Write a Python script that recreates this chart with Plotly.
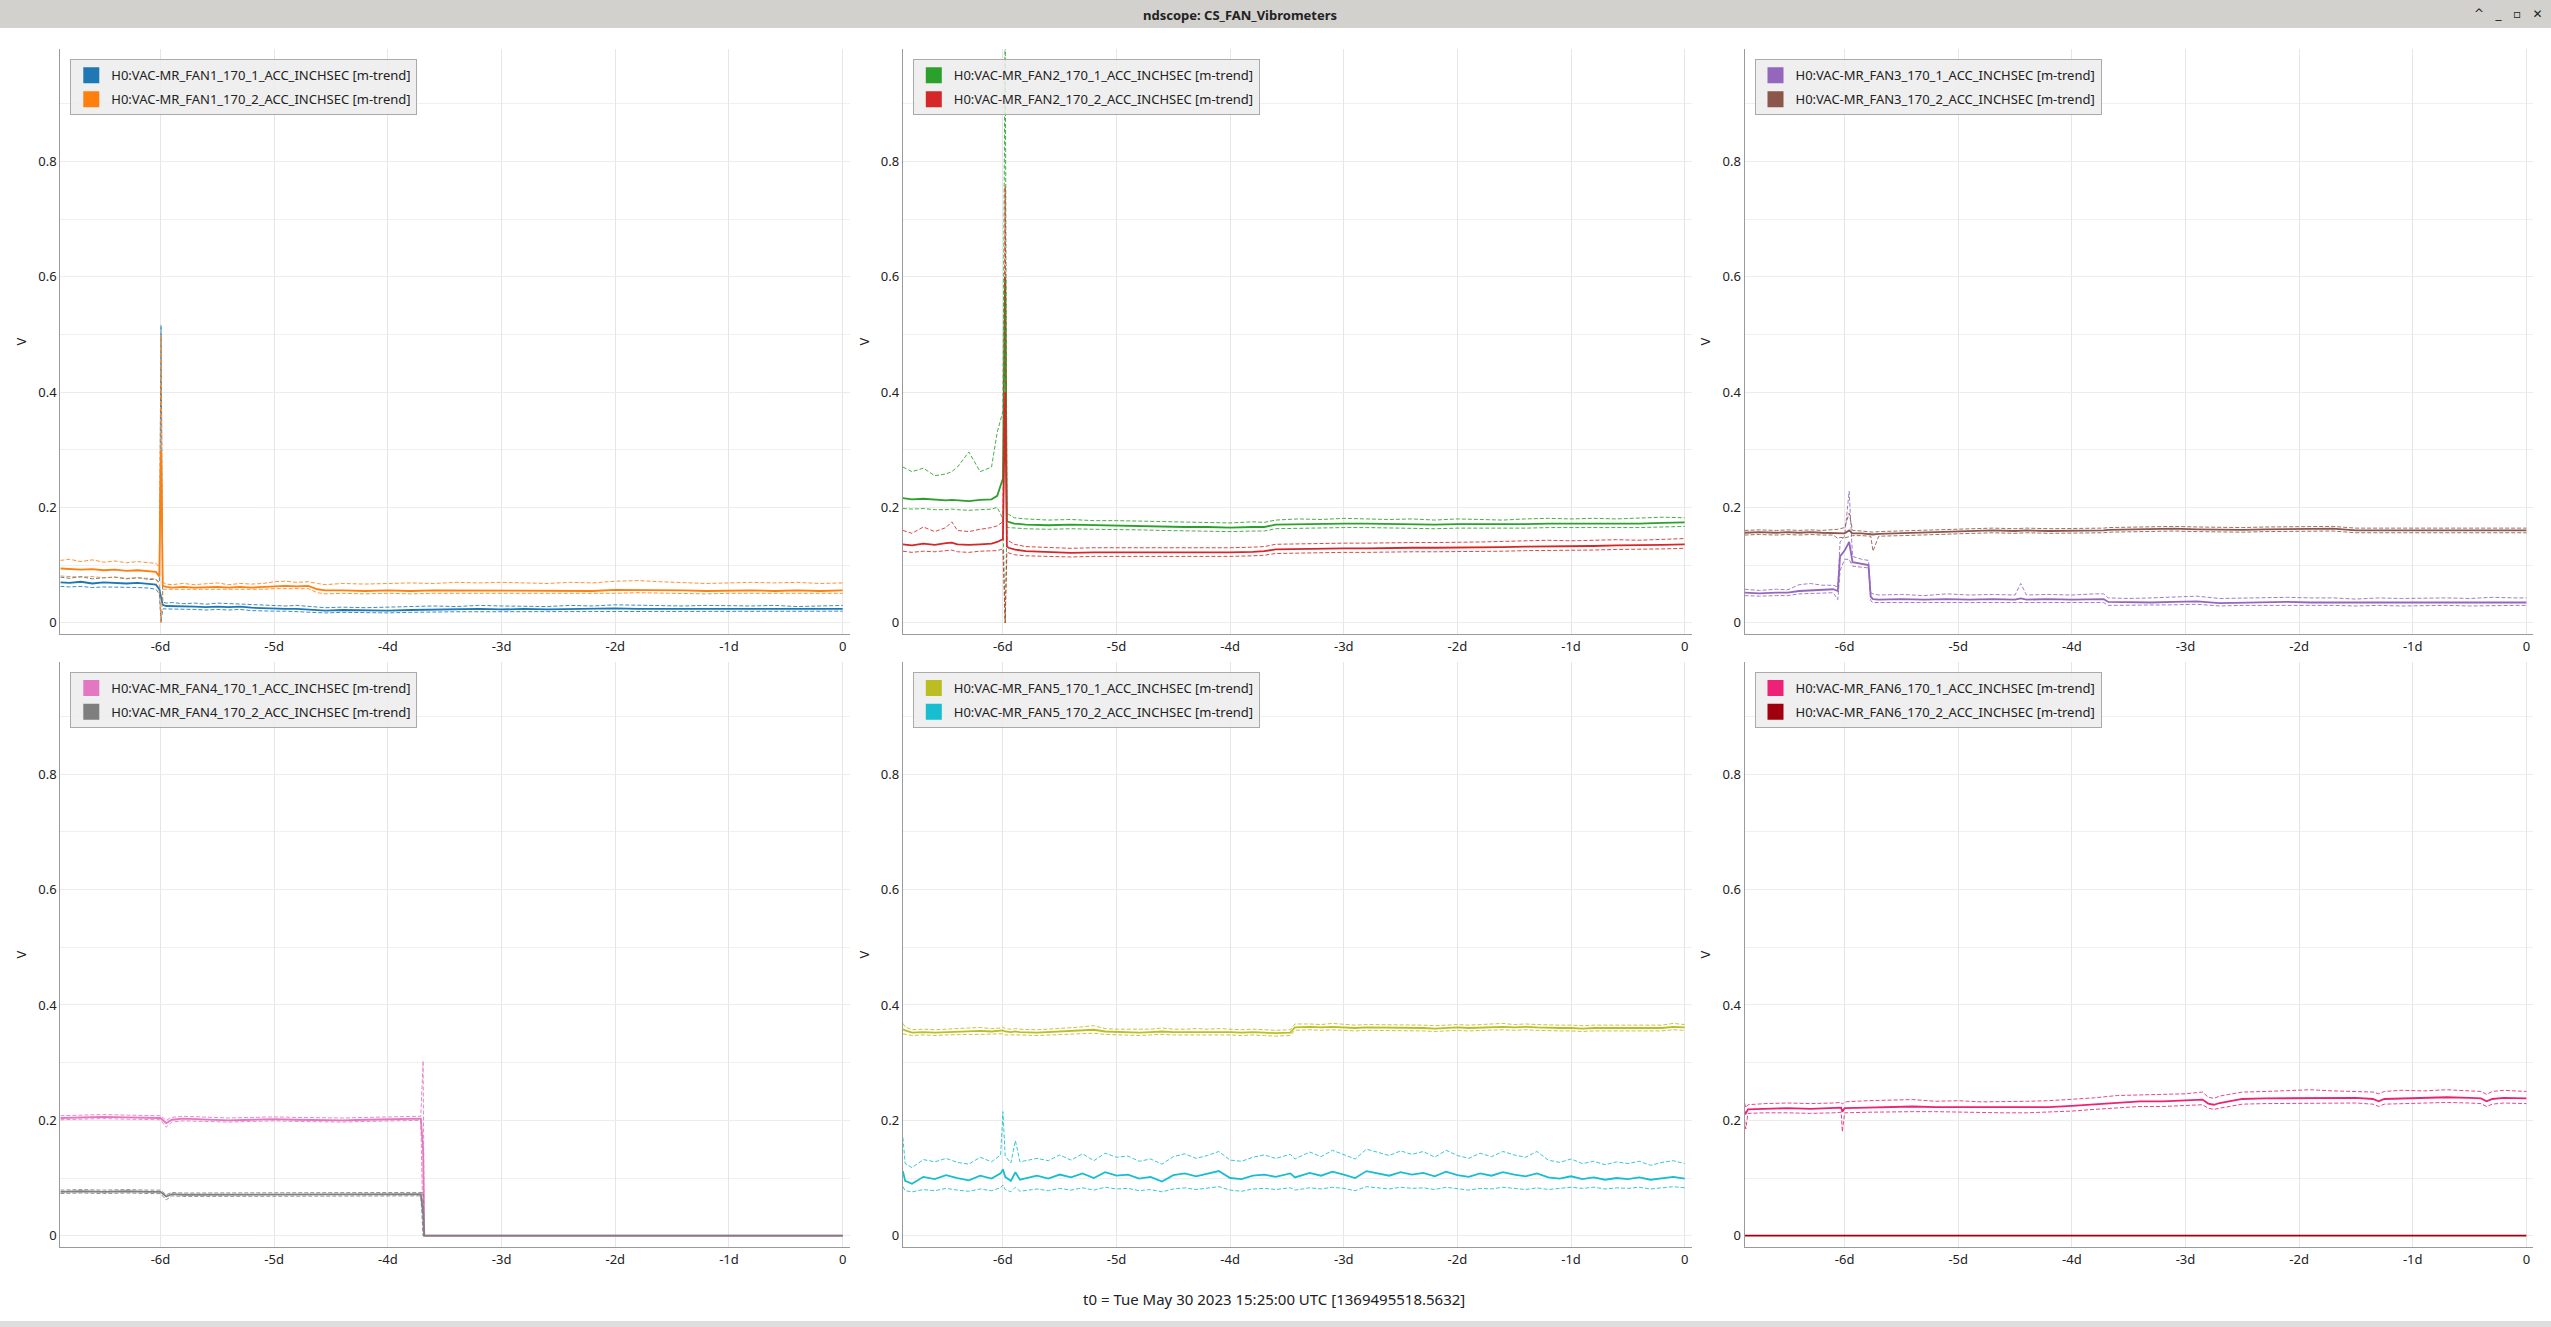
import plotly.graph_objects as go

W, H = 2551, 1327

# ---------------------------------------------------------------------------
# data (time in days relative to t0, values in V)
# ---------------------------------------------------------------------------

T1 = [-6.88, -6.8, -6.7, -6.6, -6.5, -6.4, -6.3, -6.2, -6.1, -6.04, -6.01, -5.995, -5.98,
      -5.95, -5.9, -5.8, -5.7, -5.6, -5.5, -5.4, -5.3, -5.2, -5.1, -5.0, -4.9, -4.8, -4.7,
      -4.62, -4.55, -4.4, -4.2, -4.0, -3.8, -3.6, -3.4, -3.2, -3.0, -2.8, -2.6, -2.4, -2.2,
      -2.0, -1.8, -1.6, -1.4, -1.2, -1.0, -0.8, -0.6, -0.4, -0.2, 0.0]

fan1_1_mean = [0.070, 0.069, 0.071, 0.068, 0.070, 0.069, 0.068, 0.069, 0.067, 0.066, 0.058, 0.045, 0.031,
               0.029, 0.029, 0.028, 0.028, 0.027, 0.028, 0.027, 0.028, 0.026, 0.025, 0.025, 0.024, 0.024, 0.023,
               0.022, 0.021, 0.022, 0.021, 0.021, 0.022, 0.023, 0.023, 0.024, 0.023, 0.024, 0.023, 0.024, 0.024,
               0.025, 0.024, 0.024, 0.023, 0.024, 0.024, 0.023, 0.024, 0.023, 0.024, 0.024]
fan1_1_max = [0.079, 0.077, 0.080, 0.076, 0.078, 0.079, 0.076, 0.078, 0.075, 0.075, 0.070, 0.516, 0.036,
              0.034, 0.035, 0.033, 0.034, 0.032, 0.034, 0.033, 0.033, 0.031, 0.030, 0.030, 0.029, 0.030, 0.028,
              0.027, 0.026, 0.027, 0.026, 0.027, 0.028, 0.029, 0.028, 0.030, 0.029, 0.029, 0.028, 0.030, 0.029,
              0.031, 0.030, 0.029, 0.029, 0.030, 0.029, 0.029, 0.030, 0.028, 0.029, 0.030]
fan1_1_min = [0.063, 0.062, 0.063, 0.061, 0.062, 0.062, 0.061, 0.061, 0.060, 0.058, 0.050, 0.000, 0.024,
              0.024, 0.024, 0.023, 0.023, 0.022, 0.023, 0.022, 0.023, 0.021, 0.020, 0.020, 0.020, 0.019, 0.019,
              0.018, 0.017, 0.018, 0.017, 0.017, 0.018, 0.019, 0.019, 0.019, 0.019, 0.020, 0.019, 0.020, 0.019,
              0.020, 0.020, 0.019, 0.019, 0.020, 0.019, 0.019, 0.020, 0.019, 0.019, 0.020]

fan1_2_mean = [0.094, 0.093, 0.092, 0.093, 0.091, 0.092, 0.090, 0.091, 0.089, 0.088, 0.080, 0.300, 0.064,
               0.062, 0.061, 0.062, 0.061, 0.062, 0.062, 0.061, 0.062, 0.061, 0.062, 0.064, 0.064, 0.063, 0.064,
               0.058, 0.056, 0.056, 0.055, 0.056, 0.055, 0.056, 0.056, 0.055, 0.056, 0.056, 0.055, 0.056, 0.055,
               0.057, 0.057, 0.056, 0.056, 0.055, 0.056, 0.056, 0.055, 0.056, 0.055, 0.056]
fan1_2_max = [0.108, 0.110, 0.106, 0.109, 0.105, 0.107, 0.104, 0.106, 0.104, 0.103, 0.096, 0.500, 0.070,
              0.067, 0.066, 0.068, 0.066, 0.068, 0.069, 0.066, 0.068, 0.067, 0.068, 0.071, 0.072, 0.070, 0.071,
              0.068, 0.066, 0.068, 0.067, 0.068, 0.069, 0.068, 0.070, 0.069, 0.070, 0.069, 0.068, 0.070, 0.069,
              0.072, 0.073, 0.071, 0.070, 0.068, 0.069, 0.070, 0.069, 0.070, 0.068, 0.069]
fan1_2_min = [0.081, 0.080, 0.079, 0.080, 0.078, 0.079, 0.077, 0.078, 0.077, 0.076, 0.066, 0.000, 0.058,
              0.058, 0.057, 0.058, 0.057, 0.058, 0.058, 0.057, 0.058, 0.057, 0.058, 0.059, 0.059, 0.058, 0.059,
              0.052, 0.050, 0.051, 0.050, 0.051, 0.050, 0.051, 0.051, 0.050, 0.051, 0.051, 0.050, 0.051, 0.050,
              0.051, 0.052, 0.051, 0.051, 0.050, 0.051, 0.051, 0.050, 0.051, 0.050, 0.051]

T2 = [-6.88, -6.8, -6.7, -6.6, -6.5, -6.45, -6.4, -6.3, -6.2, -6.1, -6.05, -6.0, -5.98, -5.965,
      -5.95, -5.9, -5.8, -5.6, -5.4, -5.2, -5.0, -4.8, -4.6, -4.4, -4.2, -4.0, -3.8, -3.7, -3.6,
      -3.4, -3.2, -3.0, -2.8, -2.6, -2.4, -2.2, -2.0, -1.8, -1.6, -1.4, -1.2, -1.0, -0.8, -0.6,
      -0.4, -0.2, 0.0]

fan2_1_mean = [0.216, 0.214, 0.215, 0.213, 0.212, 0.213, 0.212, 0.211, 0.213, 0.214, 0.220, 0.250, 0.600, 0.176,
               0.175, 0.172, 0.170, 0.169, 0.170, 0.169, 0.169, 0.168, 0.167, 0.166, 0.166, 0.165, 0.166, 0.166, 0.170,
               0.171, 0.171, 0.172, 0.172, 0.171, 0.171, 0.170, 0.171, 0.171, 0.170, 0.171, 0.172, 0.172, 0.172, 0.171,
               0.172, 0.173, 0.174]
fan2_1_max = [0.270, 0.262, 0.268, 0.255, 0.258, 0.262, 0.270, 0.296, 0.262, 0.270, 0.330, 0.367, 1.050, 0.190,
              0.188, 0.182, 0.180, 0.178, 0.179, 0.177, 0.177, 0.176, 0.175, 0.174, 0.174, 0.173, 0.175, 0.174, 0.178,
              0.180, 0.179, 0.181, 0.180, 0.179, 0.180, 0.178, 0.180, 0.179, 0.178, 0.180, 0.181, 0.180, 0.181, 0.180,
              0.181, 0.183, 0.182]
fan2_1_min = [0.198, 0.197, 0.198, 0.196, 0.196, 0.197, 0.196, 0.195, 0.196, 0.197, 0.200, 0.180, 0.000, 0.166,
              0.165, 0.164, 0.163, 0.162, 0.163, 0.162, 0.162, 0.161, 0.160, 0.159, 0.159, 0.158, 0.159, 0.159, 0.163,
              0.164, 0.164, 0.165, 0.165, 0.164, 0.164, 0.163, 0.164, 0.164, 0.163, 0.164, 0.165, 0.165, 0.165, 0.164,
              0.165, 0.166, 0.167]

fan2_2_mean = [0.136, 0.134, 0.137, 0.135, 0.138, 0.139, 0.136, 0.135, 0.136, 0.137, 0.140, 0.145, 0.400, 0.132,
               0.130, 0.127, 0.124, 0.122, 0.121, 0.122, 0.122, 0.121, 0.121, 0.122, 0.121, 0.122, 0.123, 0.124, 0.127,
               0.128, 0.128, 0.129, 0.129, 0.130, 0.130, 0.130, 0.130, 0.131, 0.131, 0.132, 0.132, 0.133, 0.133, 0.134,
               0.134, 0.135, 0.136]
fan2_2_max = [0.160, 0.155, 0.166, 0.158, 0.165, 0.175, 0.160, 0.158, 0.162, 0.165, 0.168, 0.175, 0.757, 0.145,
              0.142, 0.136, 0.132, 0.130, 0.129, 0.130, 0.130, 0.129, 0.129, 0.130, 0.129, 0.130, 0.131, 0.132, 0.136,
              0.137, 0.137, 0.138, 0.138, 0.139, 0.139, 0.139, 0.139, 0.140, 0.141, 0.142, 0.143, 0.142, 0.143, 0.144,
              0.143, 0.145, 0.146]
fan2_2_min = [0.124, 0.122, 0.124, 0.123, 0.125, 0.126, 0.123, 0.122, 0.124, 0.124, 0.125, 0.128, 0.000, 0.122,
              0.121, 0.118, 0.116, 0.115, 0.114, 0.115, 0.115, 0.114, 0.114, 0.115, 0.114, 0.115, 0.116, 0.117, 0.120,
              0.121, 0.121, 0.122, 0.122, 0.123, 0.123, 0.123, 0.123, 0.124, 0.124, 0.125, 0.125, 0.126, 0.126, 0.127,
              0.127, 0.128, 0.129]

T3 = [-6.88, -6.75, -6.6, -6.5, -6.4, -6.3, -6.2, -6.1, -6.06, -6.04, -6.0, -5.96, -5.93, -5.85,
      -5.79, -5.77, -5.75, -5.7, -5.5, -5.3, -5.1, -4.9, -4.7, -4.5, -4.45, -4.4, -4.2, -4.0, -3.8,
      -3.72, -3.68, -3.5, -3.3, -3.1, -2.9, -2.7, -2.5, -2.3, -2.1, -1.9, -1.7, -1.5, -1.3, -1.1,
      -0.9, -0.7, -0.5, -0.3, -0.1, 0.0]

fan3_1_mean = [0.052, 0.051, 0.052, 0.052, 0.055, 0.056, 0.057, 0.058, 0.055, 0.115, 0.125, 0.140, 0.105, 0.102,
               0.100, 0.045, 0.041, 0.040, 0.041, 0.040, 0.041, 0.040, 0.041, 0.040, 0.042, 0.040, 0.041, 0.040, 0.041,
               0.041, 0.036, 0.035, 0.035, 0.036, 0.037, 0.034, 0.035, 0.035, 0.036, 0.035, 0.035, 0.034, 0.035, 0.034,
               0.035, 0.035, 0.034, 0.035, 0.035, 0.035]
fan3_1_max = [0.058, 0.056, 0.058, 0.057, 0.066, 0.068, 0.065, 0.065, 0.062, 0.140, 0.150, 0.228, 0.115, 0.110,
              0.108, 0.052, 0.050, 0.048, 0.049, 0.047, 0.050, 0.048, 0.049, 0.048, 0.068, 0.048, 0.049, 0.048, 0.050,
              0.050, 0.043, 0.042, 0.043, 0.044, 0.046, 0.042, 0.043, 0.043, 0.044, 0.043, 0.043, 0.041, 0.043, 0.042,
              0.043, 0.043, 0.042, 0.044, 0.043, 0.043]
fan3_1_min = [0.047, 0.046, 0.047, 0.047, 0.050, 0.051, 0.052, 0.052, 0.040, 0.090, 0.110, 0.110, 0.098, 0.096,
              0.095, 0.038, 0.035, 0.035, 0.035, 0.034, 0.035, 0.034, 0.035, 0.034, 0.035, 0.034, 0.035, 0.034, 0.035,
              0.035, 0.030, 0.030, 0.030, 0.031, 0.032, 0.029, 0.030, 0.030, 0.031, 0.030, 0.030, 0.029, 0.030, 0.029,
              0.030, 0.030, 0.029, 0.030, 0.030, 0.030]

fan3_2_mean = [0.156, 0.157, 0.156, 0.157, 0.156, 0.157, 0.156, 0.156, 0.155, 0.156, 0.155, 0.160, 0.155, 0.155,
               0.154, 0.154, 0.153, 0.154, 0.155, 0.156, 0.158, 0.159, 0.160, 0.159, 0.160, 0.160, 0.159, 0.159, 0.160,
               0.160, 0.161, 0.162, 0.162, 0.163, 0.162, 0.161, 0.161, 0.162, 0.162, 0.163, 0.163, 0.160, 0.160, 0.159,
               0.159, 0.160, 0.159, 0.160, 0.160, 0.160]
fan3_2_max = [0.160, 0.161, 0.160, 0.161, 0.160, 0.161, 0.160, 0.161, 0.162, 0.163, 0.165, 0.190, 0.160, 0.159,
              0.158, 0.158, 0.157, 0.158, 0.159, 0.160, 0.162, 0.163, 0.164, 0.163, 0.164, 0.164, 0.163, 0.163, 0.164,
              0.164, 0.165, 0.166, 0.166, 0.167, 0.166, 0.165, 0.165, 0.166, 0.166, 0.167, 0.167, 0.164, 0.164, 0.163,
              0.163, 0.164, 0.163, 0.164, 0.164, 0.164]
fan3_2_min = [0.152, 0.153, 0.152, 0.153, 0.152, 0.153, 0.152, 0.152, 0.146, 0.148, 0.147, 0.150, 0.151, 0.151,
              0.150, 0.150, 0.124, 0.150, 0.151, 0.152, 0.154, 0.155, 0.156, 0.155, 0.156, 0.156, 0.155, 0.155, 0.156,
              0.156, 0.157, 0.158, 0.158, 0.159, 0.158, 0.157, 0.157, 0.158, 0.158, 0.159, 0.159, 0.156, 0.156, 0.155,
              0.155, 0.156, 0.155, 0.156, 0.156, 0.156]

T4 = [-6.88, -6.7, -6.5, -6.3, -6.1, -6.0, -5.95, -5.9, -5.8, -5.6, -5.4, -5.2, -5.0, -4.8, -4.6,
      -4.4, -4.2, -4.0, -3.8, -3.71, -3.69, -3.68, -3.0, -2.0, -1.0, 0.0]

fan4_1_mean = [0.204, 0.205, 0.206, 0.205, 0.205, 0.204, 0.195, 0.201, 0.203, 0.201, 0.200, 0.201, 0.202,
               0.201, 0.200, 0.200, 0.201, 0.202, 0.202, 0.203, 0.150, 0.000, 0.000, 0.000, 0.000, 0.000]
fan4_1_max = [0.208, 0.209, 0.210, 0.209, 0.209, 0.208, 0.200, 0.205, 0.207, 0.205, 0.204, 0.205, 0.206,
              0.205, 0.204, 0.204, 0.205, 0.206, 0.206, 0.207, 0.303, 0.000, 0.000, 0.000, 0.000, 0.000]
fan4_1_min = [0.201, 0.202, 0.203, 0.202, 0.202, 0.201, 0.188, 0.197, 0.199, 0.198, 0.197, 0.198, 0.199,
              0.198, 0.197, 0.197, 0.198, 0.199, 0.199, 0.200, 0.000, 0.000, 0.000, 0.000, 0.000, 0.000]

fan4_2_mean = [0.076, 0.077, 0.076, 0.077, 0.076, 0.076, 0.068, 0.072, 0.071, 0.071, 0.072, 0.071, 0.071,
               0.072, 0.071, 0.071, 0.072, 0.072, 0.072, 0.072, 0.040, 0.000, 0.000, 0.000, 0.000, 0.000]
fan4_2_max = [0.079, 0.080, 0.079, 0.080, 0.079, 0.079, 0.071, 0.075, 0.074, 0.074, 0.075, 0.074, 0.074,
              0.075, 0.074, 0.074, 0.075, 0.075, 0.075, 0.075, 0.075, 0.000, 0.000, 0.000, 0.000, 0.000]
fan4_2_min = [0.073, 0.074, 0.073, 0.074, 0.073, 0.073, 0.062, 0.069, 0.068, 0.068, 0.069, 0.068, 0.068,
              0.069, 0.068, 0.068, 0.069, 0.069, 0.069, 0.069, 0.000, 0.000, 0.000, 0.000, 0.000, 0.000]

T5 = [-6.88, -6.86, -6.8, -6.7, -6.6, -6.5, -6.4, -6.3, -6.2, -6.1,
      -6.02, -6.0, -5.98, -5.93, -5.89, -5.85, -5.7, -5.6, -5.5, -5.4,
      -5.3, -5.2, -5.1, -5.0, -4.9, -4.8, -4.7, -4.6, -4.5, -4.4,
      -4.3, -4.2, -4.1, -4.0, -3.9, -3.8, -3.7, -3.6, -3.47, -3.43,
      -3.3, -3.2, -3.1, -3.0, -2.9, -2.8, -2.7, -2.6, -2.5, -2.4,
      -2.3, -2.2, -2.1, -2.0, -1.9, -1.8, -1.7, -1.6, -1.5, -1.4,
      -1.3, -1.2, -1.1, -1.0, -0.9, -0.8, -0.7, -0.6, -0.5, -0.4,
      -0.3, -0.2, -0.1, 0.0]

fan5_1_mean = [0.358, 0.356, 0.352, 0.353, 0.352, 0.353, 0.354, 0.354, 0.355, 0.354,
               0.355, 0.356, 0.354, 0.353, 0.354, 0.353, 0.352, 0.353, 0.354, 0.355,
               0.356, 0.357, 0.354, 0.353, 0.353, 0.352, 0.353, 0.354, 0.353, 0.353,
               0.354, 0.353, 0.354, 0.353, 0.352, 0.353, 0.352, 0.351, 0.352, 0.361,
               0.362, 0.361, 0.362, 0.361, 0.360, 0.361, 0.361, 0.360, 0.361, 0.360,
               0.360, 0.359, 0.360, 0.361, 0.360, 0.361, 0.361, 0.362, 0.361, 0.362,
               0.361, 0.360, 0.360, 0.360, 0.359, 0.360, 0.360, 0.361, 0.360, 0.361,
               0.361, 0.360, 0.362, 0.361]
fan5_1_max = [0.368, 0.362, 0.357, 0.358, 0.357, 0.358, 0.359, 0.359, 0.361, 0.359,
              0.360, 0.362, 0.359, 0.358, 0.359, 0.358, 0.357, 0.358, 0.359, 0.360,
              0.362, 0.364, 0.359, 0.358, 0.358, 0.357, 0.358, 0.360, 0.358, 0.358,
              0.359, 0.358, 0.359, 0.358, 0.357, 0.358, 0.357, 0.356, 0.357, 0.367,
              0.367, 0.366, 0.368, 0.366, 0.365, 0.366, 0.366, 0.365, 0.366, 0.365,
              0.365, 0.364, 0.365, 0.366, 0.365, 0.366, 0.367, 0.368, 0.366, 0.367,
              0.366, 0.365, 0.365, 0.365, 0.364, 0.365, 0.365, 0.366, 0.365, 0.366,
              0.366, 0.365, 0.368, 0.366]
fan5_1_min = [0.350, 0.349, 0.347, 0.348, 0.347, 0.348, 0.349, 0.349, 0.349, 0.349,
              0.349, 0.350, 0.348, 0.348, 0.349, 0.348, 0.347, 0.348, 0.349, 0.349,
              0.350, 0.351, 0.349, 0.348, 0.348, 0.347, 0.348, 0.349, 0.348, 0.348,
              0.349, 0.348, 0.349, 0.348, 0.347, 0.348, 0.347, 0.346, 0.347, 0.356,
              0.357, 0.356, 0.357, 0.356, 0.355, 0.356, 0.356, 0.355, 0.356, 0.355,
              0.355, 0.354, 0.355, 0.356, 0.355, 0.356, 0.356, 0.357, 0.356, 0.357,
              0.356, 0.355, 0.355, 0.355, 0.354, 0.355, 0.355, 0.356, 0.355, 0.356,
              0.356, 0.355, 0.357, 0.356]

fan5_2_mean = [0.112, 0.095, 0.090, 0.102, 0.098, 0.105, 0.100, 0.096, 0.104, 0.099,
               0.108, 0.115, 0.102, 0.095, 0.110, 0.097, 0.104, 0.099, 0.106, 0.101,
               0.108, 0.100, 0.110, 0.104, 0.106, 0.099, 0.102, 0.094, 0.105, 0.108,
               0.103, 0.107, 0.112, 0.100, 0.098, 0.104, 0.106, 0.102, 0.108, 0.101,
               0.109, 0.104, 0.111, 0.106, 0.100, 0.112, 0.108, 0.104, 0.110, 0.106,
               0.109, 0.103, 0.111, 0.105, 0.102, 0.108, 0.104, 0.110, 0.106, 0.103,
               0.108, 0.101, 0.099, 0.103, 0.098, 0.101, 0.097, 0.100, 0.098, 0.101,
               0.097, 0.100, 0.102, 0.099]
fan5_2_max = [0.170, 0.125, 0.118, 0.132, 0.128, 0.134, 0.127, 0.124, 0.136, 0.128,
              0.140, 0.215, 0.138, 0.126, 0.165, 0.128, 0.134, 0.130, 0.140, 0.131,
              0.142, 0.130, 0.143, 0.136, 0.138, 0.129, 0.133, 0.124, 0.137, 0.142,
              0.134, 0.139, 0.146, 0.131, 0.129, 0.136, 0.140, 0.134, 0.141, 0.133,
              0.145, 0.137, 0.148, 0.141, 0.133, 0.150, 0.144, 0.139, 0.147, 0.141,
              0.146, 0.136, 0.148, 0.139, 0.134, 0.143, 0.137, 0.146, 0.140, 0.136,
              0.146, 0.131, 0.127, 0.133, 0.125, 0.129, 0.123, 0.128, 0.125, 0.129,
              0.122, 0.127, 0.130, 0.125]
fan5_2_min = [0.085, 0.078, 0.076, 0.080, 0.078, 0.082, 0.079, 0.077, 0.081, 0.078,
              0.083, 0.088, 0.080, 0.076, 0.084, 0.077, 0.081, 0.078, 0.082, 0.079,
              0.083, 0.079, 0.084, 0.081, 0.082, 0.078, 0.080, 0.076, 0.081, 0.083,
              0.080, 0.082, 0.085, 0.079, 0.077, 0.081, 0.082, 0.080, 0.083, 0.079,
              0.083, 0.081, 0.084, 0.082, 0.078, 0.085, 0.083, 0.081, 0.084, 0.082,
              0.083, 0.080, 0.084, 0.081, 0.079, 0.082, 0.081, 0.084, 0.082, 0.080,
              0.083, 0.080, 0.082, 0.084, 0.082, 0.084, 0.081, 0.083, 0.082, 0.084,
              0.081, 0.083, 0.085, 0.083]

T6 = [-6.88, -6.87, -6.85, -6.7, -6.5, -6.3, -6.1, -6.03, -6.02, -6.0,
      -5.8, -5.6, -5.4, -5.2, -5.0, -4.8, -4.6, -4.4, -4.2, -4.0,
      -3.8, -3.6, -3.4, -3.2, -3.0, -2.9, -2.85, -2.8, -2.75, -2.7,
      -2.6, -2.5, -2.3, -2.1, -1.9, -1.7, -1.5, -1.35, -1.3, -1.25,
      -1.1, -0.9, -0.7, -0.5, -0.4, -0.35, -0.3, -0.2, -0.1, 0.0]

fan6_1_mean = [0.215, 0.212, 0.219, 0.220, 0.221, 0.220, 0.221, 0.222, 0.215, 0.221,
               0.222, 0.223, 0.224, 0.223, 0.223, 0.222, 0.222, 0.222, 0.223, 0.225,
               0.228, 0.231, 0.233, 0.233, 0.234, 0.235, 0.236, 0.229, 0.227, 0.230,
               0.234, 0.237, 0.238, 0.238, 0.239, 0.238, 0.239, 0.237, 0.233, 0.237,
               0.238, 0.239, 0.240, 0.239, 0.238, 0.233, 0.237, 0.239, 0.238, 0.238]
fan6_1_max = [0.230, 0.222, 0.227, 0.229, 0.230, 0.229, 0.230, 0.231, 0.228, 0.232,
              0.234, 0.235, 0.236, 0.233, 0.234, 0.232, 0.232, 0.233, 0.234, 0.236,
              0.239, 0.243, 0.244, 0.245, 0.246, 0.248, 0.249, 0.240, 0.238, 0.242,
              0.246, 0.249, 0.250, 0.252, 0.253, 0.251, 0.250, 0.249, 0.246, 0.250,
              0.252, 0.251, 0.253, 0.251, 0.250, 0.245, 0.250, 0.252, 0.251, 0.250]
fan6_1_min = [0.200, 0.185, 0.212, 0.213, 0.213, 0.212, 0.213, 0.214, 0.180, 0.213,
              0.214, 0.215, 0.215, 0.215, 0.214, 0.214, 0.213, 0.213, 0.214, 0.216,
              0.219, 0.222, 0.224, 0.224, 0.225, 0.226, 0.227, 0.221, 0.219, 0.221,
              0.225, 0.228, 0.229, 0.229, 0.230, 0.229, 0.230, 0.228, 0.224, 0.228,
              0.229, 0.230, 0.231, 0.230, 0.229, 0.224, 0.228, 0.230, 0.229, 0.229]

T6_2 = [-6.88, 0.0]
fan6_2_mean = [0.0, 0.0]

x_ticks = [-6, -5, -4, -3, -2, -1, 0]
x_labels = ["-6d", "-5d", "-4d", "-3d", "-2d", "-1d", "0"]
y_ticks = [0, 0.2, 0.4, 0.6, 0.8]
y_labels = ["0", "0.2", "0.4", "0.6", "0.8"]

# ---------------------------------------------------------------------------
# panels: (channel name, colour, time, mean, min, max)
# ---------------------------------------------------------------------------

panels = [
    [("H0:VAC-MR_FAN1_170_1_ACC_INCHSEC [m-trend]", "#1f77b4", T1, fan1_1_mean, fan1_1_min, fan1_1_max),
     ("H0:VAC-MR_FAN1_170_2_ACC_INCHSEC [m-trend]", "#ff7f0e", T1, fan1_2_mean, fan1_2_min, fan1_2_max)],
    [("H0:VAC-MR_FAN2_170_1_ACC_INCHSEC [m-trend]", "#2ca02c", T2, fan2_1_mean, fan2_1_min, fan2_1_max),
     ("H0:VAC-MR_FAN2_170_2_ACC_INCHSEC [m-trend]", "#d62728", T2, fan2_2_mean, fan2_2_min, fan2_2_max)],
    [("H0:VAC-MR_FAN3_170_1_ACC_INCHSEC [m-trend]", "#9467bd", T3, fan3_1_mean, fan3_1_min, fan3_1_max),
     ("H0:VAC-MR_FAN3_170_2_ACC_INCHSEC [m-trend]", "#8c564b", T3, fan3_2_mean, fan3_2_min, fan3_2_max)],
    [("H0:VAC-MR_FAN4_170_1_ACC_INCHSEC [m-trend]", "#e377c2", T4, fan4_1_mean, fan4_1_min, fan4_1_max),
     ("H0:VAC-MR_FAN4_170_2_ACC_INCHSEC [m-trend]", "#7f7f7f", T4, fan4_2_mean, fan4_2_min, fan4_2_max)],
    [("H0:VAC-MR_FAN5_170_1_ACC_INCHSEC [m-trend]", "#bcbd22", T5, fan5_1_mean, fan5_1_min, fan5_1_max),
     ("H0:VAC-MR_FAN5_170_2_ACC_INCHSEC [m-trend]", "#17becf", T5, fan5_2_mean, fan5_2_min, fan5_2_max)],
    [("H0:VAC-MR_FAN6_170_1_ACC_INCHSEC [m-trend]", "#ed2277", T6, fan6_1_mean, fan6_1_min, fan6_1_max),
     ("H0:VAC-MR_FAN6_170_2_ACC_INCHSEC [m-trend]", "#a0000e", T6_2, fan6_2_mean, None, None)],
]

# ---------------------------------------------------------------------------
# layout geometry (pixels of the 2551x1327 window)
# ---------------------------------------------------------------------------

col_px = [(60.3, 849.6), (902.8, 1691.6), (1744.5, 2533.3)]
row_px = [(49.3, 634.0), (662.0, 1247.0)]
FONT = "Noto Sans"

fig = go.Figure()
layout = dict(
    width=W, height=H,
    margin=dict(l=0, r=0, t=0, b=0),
    paper_bgcolor="white", plot_bgcolor="white",
    font=dict(family=FONT, size=13, color="#222222"),
    showlegend=True,
)

for i, chans in enumerate(panels):
    r, c = divmod(i, 3)
    x0, x1 = col_px[c]
    ytop, ybot = row_px[r]
    xd = [x0 / W, x1 / W]
    yd = [1 - ybot / H, 1 - ytop / H]
    sfx = "" if i == 0 else str(i + 1)
    xa, ya = "x" + sfx, "y" + sfx
    leg = "legend" + sfx

    for k, (name, col, t, mean, lo, hi) in enumerate(chans):
        for band in (lo, hi):
            if band is None:
                continue
            fig.add_trace(go.Scatter(
                x=t, y=band, mode="lines", xaxis=xa, yaxis=ya, showlegend=False,
                hoverinfo="skip", opacity=0.85,
                line=dict(color=col, width=1, dash="4px,2px")))
        fig.add_trace(go.Scatter(
            x=t, y=mean, mode="lines", xaxis=xa, yaxis=ya, showlegend=False,
            name=name, line=dict(color=col, width=1.8)))
        # legend entry drawn as a coloured square
        fig.add_trace(go.Scatter(
            x=[None], y=[None], mode="markers", xaxis=xa, yaxis=ya, name=name,
            legend=leg, legendgroup=f"{i}_{k}",
            marker=dict(symbol="square", size=18, color=col)))

    layout["xaxis" + sfx] = dict(
        domain=xd, anchor=ya, range=[-6.881, 0.061],
        tickvals=x_ticks, ticktext=x_labels, ticks="", showline=True,
        linecolor="#9a9a9a", linewidth=1, showgrid=True, gridcolor="#e6e6e6",
        zeroline=False, tickfont=dict(size=13, color="#222222"))
    layout["yaxis" + sfx] = dict(
        domain=yd, anchor=xa, range=[-0.0196, 0.9945],
        tickvals=y_ticks, ticktext=y_labels, ticks="", showline=True,
        linecolor="#9a9a9a", linewidth=1, showgrid=True, gridcolor="#ececec",
        minor=dict(dtick=0.1, tick0=0, showgrid=True, gridcolor="#f0f0f0"),
        zeroline=False, tickfont=dict(size=13, color="#222222"),
        title=dict(text="V", standoff=8, font=dict(size=13, color="#222222")))
    layout[leg] = dict(
        x=(x0 + 10) / W, y=1 - (ytop + 10) / H, xanchor="left", yanchor="top",
        bgcolor="rgba(236,236,236,0.85)", bordercolor="#aaaaaa", borderwidth=1,
        font=dict(family=FONT, size=13, color="#222222"),
        tracegroupgap=4, itemsizing="trace")

fig.update_layout(**layout)

# window title bar and bottom strip
fig.add_shape(type="rect", xref="paper", yref="paper", x0=0, x1=1, y0=1 - 28 / H, y1=1,
              fillcolor="#d3d1ce", line=dict(width=0), layer="below")
fig.add_shape(type="rect", xref="paper", yref="paper", x0=0, x1=1, y0=0, y1=6 / H,
              fillcolor="#dedede", line=dict(width=0), layer="below")
fig.add_annotation(text="<b>ndscope: CS_FAN_Vibrometers</b>", xref="paper", yref="paper",
                   x=1240 / W, y=1 - 15 / H, showarrow=False, xanchor="center", yanchor="middle",
                   font=dict(family=FONT, size=13, color="#222222"))
fig.add_annotation(text="^   _   ▫   ✕", xref="paper", yref="paper",
                   x=2545 / W, y=1 - 14 / H, showarrow=False, xanchor="right", yanchor="middle",
                   font=dict(family="DejaVu Sans", size=12, color="#222222"))

# t0 label
fig.add_annotation(text="t0 = Tue May 30 2023 15:25:00 UTC [1369495518.5632]", xref="paper", yref="paper",
                   x=1274 / W, y=1 - 1299 / H, showarrow=False, xanchor="center", yanchor="middle",
                   font=dict(family=FONT, size=15, color="#222222"))

fig.write_html("out.html", config={"displayModeBar": False},
               post_script="document.body.style.margin='0';")
